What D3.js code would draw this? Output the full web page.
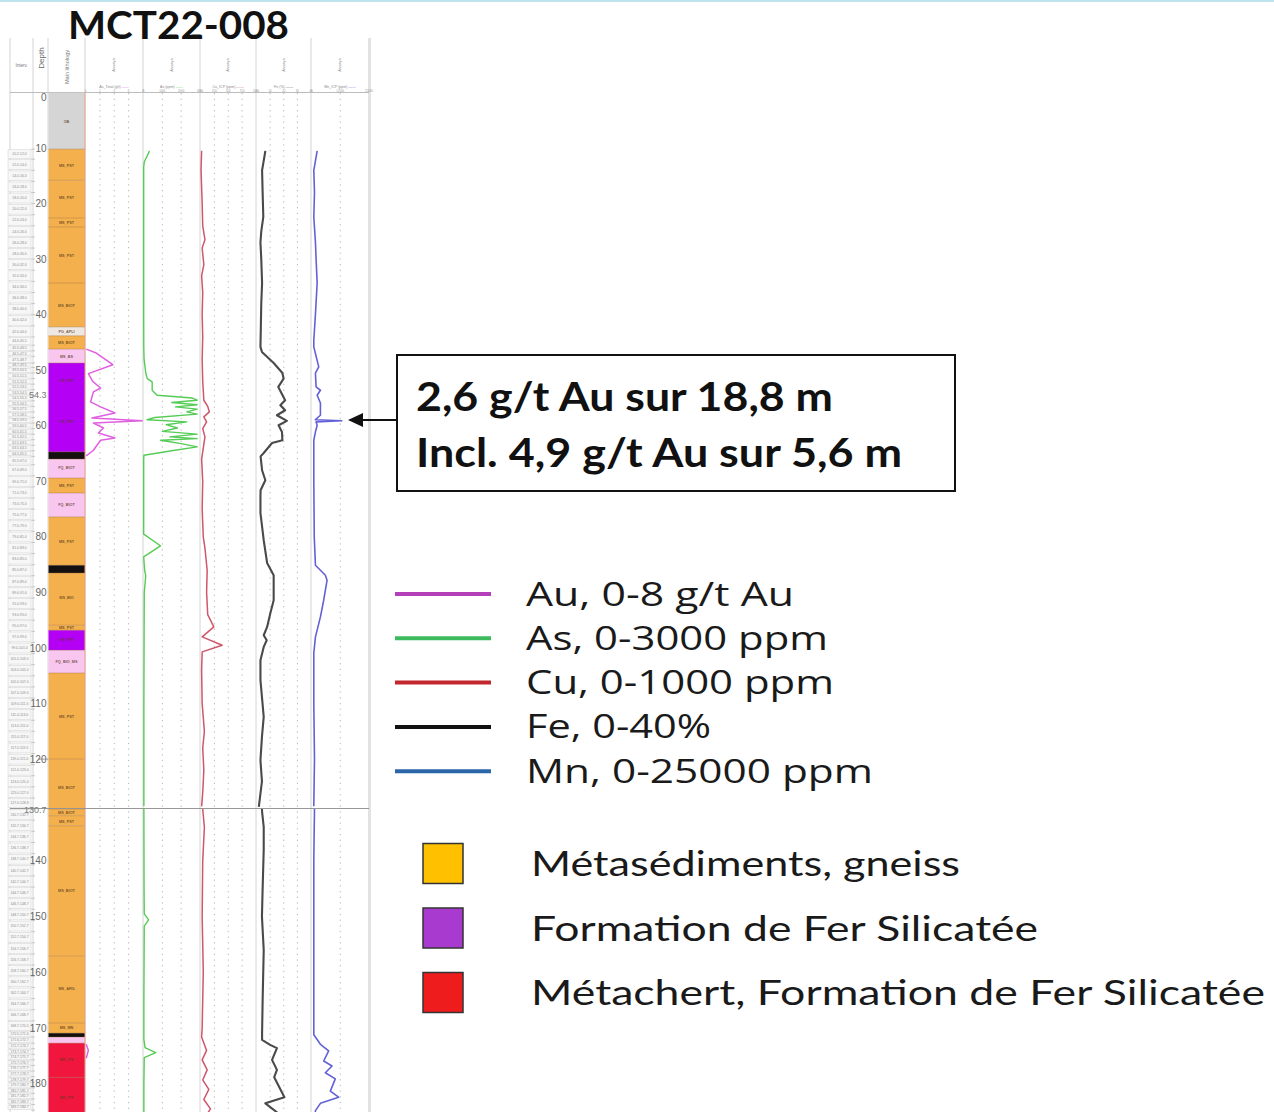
<!DOCTYPE html>
<html><head><meta charset="utf-8">
<script src="https://cdn.jsdelivr.net/npm/d3@7"></script>
<style>body{margin:0;background:#fff} svg{display:block}</style>
</head><body><svg id="c" width="1274" height="1112"></svg>
<script>
// ---------------- DATA ----------------
const holeId = "MCT22-008";
const calloutLines = ["2,6 g/t Au sur 18,8 m", "Incl. 4,9 g/t Au sur 5,6 m"];
const depthTicks = [0,10,20,30,40,50,60,70,80,90,100,110,120,140,150,160,170,180];
const specialDepthLabels = [[54.3,"54.3"],[130.7,"130.7"]];

// lithology units [from, to, type]
const lithoUnits = [
  [0,10.2,"OB"],[10.2,15.8,"MS"],[15.8,22.6,"MS"],[22.6,24.2,"MS"],[24.2,34.3,"MS"],
  [34.3,42.2,"MS"],[42.2,43.8,"AP"],[43.8,46.2,"MS"],[46.2,48.7,"PK"],[48.7,64.7,"FS"],
  [64.7,66.0,"BK"],[66.0,69.4,"PK"],[69.4,72.1,"MS"],[72.1,76.4,"PK"],[76.4,85.1,"MS"],
  [85.1,86.5,"BK"],[86.5,95.9,"MS"],[95.9,96.8,"MS"],[96.8,100.4,"FS"],[100.4,104.5,"PK"],
  [104.5,120,"MS"],[120,128.8,"MS"],
  [130.7,131.9,"MS"],[131.9,133.7,"MS"],[133.7,157.1,"MS"],[157.1,169.1,"MS"],[169.1,170.9,"MS"],
  [170.9,171.6,"BK"],[171.6,172.7,"PK"],[172.7,178.8,"MC"],[178.8,190,"MC"]
];
const lithoLabels = [
  [5.3,"OB"],[13.2,"MS_PST"],[19,"MS_PST"],[23.4,"MS_PST"],[29.4,"MS_PST"],[38.4,"MS_BIOT"],
  [43.0,"PG_APLI"],[45.0,"MS_BIOT"],[47.5,"MS_BS"],[51.8,"FS_PST"],[59.3,"FS_PST"],
  [67.6,"FQ_BIOT"],[70.8,"MS_PST"],[74.2,"FQ_BIOT"],[80.9,"MS_PST"],[91,"MS_BIO"],
  [96.3,"MS_PST"],[98.5,"FS_PST"],[102.5,"FQ_BIO_MS"],[112.4,"MS_PST"],[125.2,"MS_BIOT"],
  [131.3,"MS_BIOT"],[133,"MS_PST"],[145.4,"MS_BIOT"],[163,"MS_ARG"],[170,"MS_MN"],
  [175.7,"MC_FS"],[182.4,"MC_FS"]
];

// sample interval starts (two sections of the log)
const samplesUpper = [10.2,12,14,16,18,20,22,24,26,28,30,32,34,36,38,40,42,44,45.5,46.5,47.5,48.7,49.5,50.5,51.5,52.5,53.5,54.5,55.5,56.5,57.5,58.5,59.5,60.5,61.5,62.5,63.5,64.5,65.5,67,69,71,73,75,77,79,81,83,85,87,89,91,93,95,97,99,101,103,105,107,109,111,113,115,117,119,121,123,125,127,128.8];
const samplesLower = [130.7,132.7,134.7,136.7,138.7,140.7,142.7,144.7,146.7,148.7,150.7,152.7,154.7,156.7,158.7,160.7,162.7,164.7,166.7,168.7,170.5,171.6,172.7,173.7,174.7,175.7,176.7,177.7,178.7,179.7,180.7,181.7,182.7,183.7,184.7];

// assays [depth, value]; null = no data / page break
const auData = [[46.2,0.1],[46.9,1.5],[49.0,3.8],[50.6,0.4],[52.0,1.0],[53.2,2.1],[53.9,1.1],[55.7,0.7],[56.6,2.1],[57.7,4.1],[58.6,0.9],[59.1,7.9],[59.5,1.1],[60.4,2.5],[61.3,1.8],[62.2,4.1],[62.6,2.1],[64.4,1.1],[65.4,0.1],[66,null],[172.9,0.1],[174.0,0.4],[175.4,0.1]];
const asData = [[10.5,320],[12.5,40],[13.5,10],[20,10],[30,10],[40,10],[46,15],[48,30],[50.5,120],[51.5,200],[52.1,460],[53.6,460],[54.5,720],[55.0,2600],[55.4,2850],[55.8,1500],[56.2,2850],[56.6,1700],[57.0,2850],[57.5,2300],[57.9,2850],[58.5,600],[58.9,190],[59.3,2300],[59.8,1200],[60.4,1800],[61.0,1000],[61.5,2850],[62.0,1400],[62.3,2850],[62.6,900],[63.2,2000],[63.8,2850],[64.5,1500],[65.3,20],[66,10],[79.5,10],[81.6,900],[83.6,10],[86,60],[87,120],[90,40],[100,30],[110,20],[120,20],[128.5,20],[129.5,null],[130.7,20],[145,30],[149.5,40],[150.6,270],[151.7,40],[165,20],[172,20],[173.5,80],[174.4,650],[175.3,40],[180,20],[186,20]];
const cuData = [[10.5,20],[14,10],[20,30],[24,40],[26.5,80],[28,30],[31,60],[33,20],[36,40],[40,30],[44,40],[48,30],[52,40],[55.4,60],[56.5,130],[57.5,160],[58.4,60],[59.3,110],[60.5,40],[62,80],[64,50],[66,20],[70,40],[75,30],[80,50],[82,80],[86,120],[90,110],[94,130],[96.2,240],[98,30],[99.5,390],[100.7,30],[104,20],[110,30],[115,70],[118,40],[122,60],[126,40],[128.5,20],[129.5,null],[130.7,40],[134,70],[140,40],[150,30],[160,50],[170,30],[171.6,20],[174,110],[175.7,30],[177.5,120],[179.3,40],[181,150],[182.8,60],[184.5,180],[186,80]];
const feData = [[10.5,6.5],[12,5.5],[14,4.1],[18,4.5],[22.4,5.0],[25,3.5],[27,2.9],[30,3.5],[34.3,4.1],[38,3.5],[42,3.2],[45.8,2.9],[46.7,4.0],[48.7,12.6],[50.5,19],[51.5,19.9],[53.0,16],[55.4,21],[56.3,17.5],[57.2,21],[58.1,15],[59.1,22.3],[59.9,16.2],[61.1,18.7],[62.6,19],[63.1,11.4],[64.9,5.3],[65.5,3],[68,4.1],[69.8,6.5],[71.6,3],[72.8,2.9],[75.7,2.9],[80.6,5.3],[84.7,7.8],[86.9,12.6],[91.4,12.6],[93.7,10.2],[96.2,7.8],[97.7,5.3],[98.6,7.5],[99.8,5.3],[102.2,2.9],[105.8,2.9],[112.4,5.3],[116,4],[120.2,2.9],[124,4],[128.6,1.7],[129.5,null],[130.7,4],[131.2,4.1],[133.9,5.3],[138,5.3],[145,4.5],[150,4],[156,5.3],[165,4.5],[170.9,4.1],[172.1,4.1],[173,10],[173.6,15],[175.7,11.4],[177.5,15],[178.8,13],[182.4,20.5],[183.5,6.5],[185.1,15],[186,17]];
const mnData = [[10.5,2460],[14,1000],[18,1300],[22.4,1000],[27,1720],[30,2000],[34.3,2460],[40,1700],[44.6,1000],[45.8,1000],[49.4,3150],[50.5,1700],[53.0,2000],[53.6,3880],[54.5,2460],[55.9,3880],[58.1,3880],[58.9,1700],[59.1,13200],[59.3,2000],[59.9,2460],[61.1,1720],[62.6,1000],[70,1000],[80,1200],[85.1,1720],[86.9,6030],[87.8,6770],[91.4,5300],[94.4,3880],[98,1720],[100.9,1000],[110,1000],[120,1300],[128.5,1000],[129.5,null],[130.7,1300],[140,1000],[150,1000],[160,1000],[171.2,1000],[172.9,3880],[174.1,7460],[175.9,5300],[176.8,8920],[178,6030],[179.1,10340],[181.3,8190],[182.4,11770],[183.5,3880],[184.8,1720],[186,1500]];

const elements = ["Au","As","Cu","Fe","Mn"];
const elementMax = [8,3000,1000,40,25000];
const elementGridStep = [2,1000,250,10,12500];
const elementHeader = ["Au_Total (g/t)","As (ppm)","Cu_ICP (ppm)","Fe (%)","Mn_ICP (ppm)"];
const legendLabels = ["Au, 0-8 g/t Au","As, 0-3000 ppm","Cu, 0-1000 ppm","Fe, 0-40%","Mn, 0-25000 ppm"];
const lithoLegendLabels = ["Métasédiments, gneiss","Formation de Fer Silicatée","Métachert, Formation de Fer Silicatée"];

// ---------------- STYLE ----------------
const lithoColor = {OB:"#d5d5d5",MS:"#f4b04c",AP:"#efe7e2",PK:"#f8c6ef",FS:"#b400f4",BK:"#151010",MC:"#f0163e"};
const curveColor = ["#e060e0","#55cc55","#d0566a","#4a4a4a","#6262d6"];
const curveWidth = [1.5,1.4,1.5,2.1,1.6];
const legendColor = ["#b53fb8","#3dbb5c","#c1272d","#111111","#2a66a8"];
const lithoLegendColor = ["#ffc000","#a83ad0","#ee1c1c"];

const svg = d3.select("#c");
svg.append("rect").attr("width",1274).attr("height",1112).attr("fill","#fff");
svg.append("rect").attr("x",0).attr("y",0).attr("width",1274).attr("height",2).attr("fill","#bfe4ef");

const y = d3.scaleLinear().domain([0,128.8,130.7,190]).range([92.5,808,809,1139.6]);
const colEdges = [85,143,200,256,311,369];
const xScales = elements.map((e,i)=>d3.scaleLinear().domain([0,elementMax[i]]).range([colEdges[i]+0.5,colEdges[i+1]]));

const log = svg.append("g");
const clip = svg.append("defs").append("clipPath").attr("id","logclip");
clip.append("rect").attr("x",5).attr("y",92.5).attr("width",366).attr("height",1020);

// dotted grid in assay columns
elements.forEach((e,i)=>{
  const ticks = d3.range(elementGridStep[i], elementMax[i], elementGridStep[i]);
  log.selectAll(null).data(ticks).enter().append("line")
    .attr("x1",d=>xScales[i](d)).attr("x2",d=>xScales[i](d))
    .attr("y1",93).attr("y2",1112)
    .attr("stroke","#b0b0b0").attr("stroke-width",0.9).attr("stroke-dasharray","1.3,4.4");
});

// column frame
[10,33,48,85,143,200,256,311].forEach(x=>{
  log.append("line").attr("x1",x).attr("x2",x).attr("y1",38).attr("y2",1112)
    .attr("stroke","#d4d4d4").attr("stroke-width",1);
});
log.append("rect").attr("x",368).attr("y",38).attr("width",3).attr("height",1074).attr("fill","#e2e2e2");
log.append("line").attr("x1",10).attr("x2",369).attr("y1",92.5).attr("y2",92.5).attr("stroke","#bdbdbd").attr("stroke-width",1);

// sample interval column
function sampleCells(list){
  const cells = list.slice(0,-1).map((d,i)=>[d,list[i+1]]);
  const g = log.append("g");
  g.selectAll("rect").data(cells).enter().append("rect")
    .attr("x",8).attr("width",23)
    .attr("y",d=>y(d[0])+0.6).attr("height",d=>Math.max(0.5,y(d[1])-y(d[0])-1.2))
    .attr("fill","#f7f7f7").attr("stroke","#cfcfcf").attr("stroke-width",0.5);
  g.selectAll("text").data(cells).enter().append("text")
    .attr("x",19.5).attr("y",d=>(y(d[0])+y(d[1]))/2+1.2)
    .attr("text-anchor","middle").attr("font-family","Liberation Sans, Arial").attr("font-size",3.4)
    .attr("fill","#8a8a8a").text(d=>d[0].toFixed(1)+"-"+d[1].toFixed(1));
  g.selectAll("line").data(list).enter().append("line")
    .attr("x1",31).attr("x2",35).attr("y1",d=>y(d)).attr("y2",d=>y(d))
    .attr("stroke","#aaa").attr("stroke-width",0.6);
}
sampleCells(samplesUpper);
sampleCells(samplesLower);

// lithology column
log.selectAll(".lu").data(lithoUnits).enter().append("rect").attr("class","lu")
  .attr("x",48.5).attr("width",36.5)
  .attr("y",d=>y(d[0])).attr("height",d=>y(d[1])-y(d[0]))
  .attr("fill",d=>lithoColor[d[2]]).attr("clip-path","url(#logclip)");
log.selectAll(".lb").data(lithoUnits.slice(1)).enter().append("line").attr("class","lb")
  .attr("x1",48.5).attr("x2",85).attr("y1",d=>y(d[0])).attr("y2",d=>y(d[0]))
  .attr("stroke","#9a6a3a").attr("stroke-opacity",0.55).attr("stroke-width",0.7);
log.append("line").attr("x1",85).attr("x2",85).attr("y1",92.5).attr("y2",1112).attr("stroke","#e8a08a").attr("stroke-width",1);
log.selectAll(".ll").data(lithoLabels).enter().append("text").attr("class","ll")
  .attr("x",66.5).attr("y",d=>y(d[0])+1.3).attr("text-anchor","middle")
  .attr("font-family","Liberation Sans, Arial").attr("font-size",3.8).attr("font-weight","bold")
  .attr("fill","#5a3c1c").attr("fill-opacity",0.8).text(d=>d[1]);

// depth labels
log.selectAll(".dt").data(depthTicks).enter().append("text").attr("class","dt")
  .attr("x",46.5).attr("y",d=>y(d)+(d===0?8:3.5)).attr("text-anchor","end")
  .attr("font-family","Liberation Sans, Arial").attr("font-size",10).attr("fill","#666").text(d=>d);
log.selectAll(".ds").data(specialDepthLabels).enter().append("text").attr("class","ds")
  .attr("x",46.5).attr("y",d=>y(d[0])+3.5).attr("text-anchor","end")
  .attr("font-family","Liberation Sans, Arial").attr("font-size",9).attr("fill","#777").text(d=>d[1]);
// page break line
log.append("line").attr("x1",10).attr("x2",369).attr("y1",y(129.75)).attr("y2",y(129.75))
  .attr("stroke","#8c8c8c").attr("stroke-width",0.9);
log.append("line").attr("x1",38).attr("x2",48).attr("y1",y(120)).attr("y2",y(120))
  .attr("stroke","#777").attr("stroke-width",0.7);

// header texts
const hf = "Liberation Sans, Arial";
log.append("text").attr("x",21.5).attr("y",67).attr("text-anchor","middle").attr("font-family",hf)
  .attr("font-size",4.5).attr("fill","#777").text("Interv.");
log.append("text").attr("transform","translate(43.5,58) rotate(-90)").attr("text-anchor","middle")
  .attr("font-family",hf).attr("font-size",8).attr("fill","#666").text("Depth");
log.append("text").attr("transform","translate(69,67) rotate(-90)").attr("text-anchor","middle")
  .attr("font-family",hf).attr("font-size",5.6).attr("fill","#777").text("Main lithology");
elements.forEach((e,i)=>{
  const cx = (colEdges[i]+colEdges[i+1])/2;
  log.append("text").attr("transform",`translate(${cx+1},65) rotate(-90)`).attr("text-anchor","middle")
    .attr("font-family",hf).attr("font-size",4.2).attr("fill","#888").text("Assays");
  const t = log.append("text").attr("x",cx).attr("y",87.5).attr("text-anchor","middle")
    .attr("font-family",hf).attr("font-size",3.6).attr("fill","#888");
  t.append("tspan").text(elementHeader[i]+" ");
  t.append("tspan").attr("fill",curveColor[i]).text("——");
  const tv = d3.range(0, elementMax[i]+1e-9, elementGridStep[i]);
  log.selectAll(null).data(tv).enter().append("text")
    .attr("x",d=>xScales[i](d)).attr("y",91.5).attr("text-anchor","middle")
    .attr("font-family",hf).attr("font-size",2.8).attr("fill","#999").text(d=>d);
});

// curves
const allData = [auData,asData,cuData,feData,mnData];
allData.forEach((data,i)=>{
  const line = d3.line().defined(d=>d[1]!==null).x(d=>xScales[i](d[1])).y(d=>y(d[0]));
  log.append("path").datum(data).attr("d",line).attr("fill","none")
    .attr("stroke",curveColor[i]).attr("stroke-width",curveWidth[i])
    .attr("stroke-linejoin","round").attr("clip-path","url(#logclip)");
});

// title
svg.append("text").attr("x",68).attr("y",39).attr("font-family","Lato, Open Sans, sans-serif")
  .attr("font-weight","bold").attr("font-size",39).attr("fill","#111")
  .attr("textLength",221).attr("lengthAdjust","spacingAndGlyphs").text(holeId);

// callout
svg.append("rect").attr("x",397).attr("y",355).attr("width",558).attr("height",136)
  .attr("fill","#fff").attr("stroke","#111").attr("stroke-width",2);
const calloutW = [417,486];
svg.selectAll(".co").data(calloutLines).enter().append("text").attr("class","co")
  .attr("x",416).attr("y",(d,i)=>411+i*55.5).attr("font-family","Lato, Open Sans, sans-serif")
  .attr("font-weight","bold").attr("font-size",40).attr("fill","#111")
  .attr("textLength",(d,i)=>calloutW[i]).attr("lengthAdjust","spacingAndGlyphs").text(d=>d);
svg.append("line").attr("x1",396).attr("x2",360).attr("y1",420).attr("y2",420).attr("stroke","#111").attr("stroke-width",2);
svg.append("path").attr("d","M348,420 L363,413 L363,427 Z").attr("fill","#111");

// element legend
const legW = [268,302,308,185,347];
const lg = svg.append("g");
lg.selectAll("line").data(legendLabels).enter().append("line")
  .attr("x1",395).attr("x2",491).attr("y1",(d,i)=>594+i*44.3).attr("y2",(d,i)=>594+i*44.3)
  .attr("stroke",(d,i)=>legendColor[i]).attr("stroke-width",4);
lg.selectAll("text").data(legendLabels).enter().append("text")
  .attr("x",526).attr("y",(d,i)=>605.5+i*44.3).attr("font-family","Open Sans, Lato, sans-serif")
  .attr("font-size",33).attr("fill","#1a1a1a")
  .attr("textLength",(d,i)=>legW[i]).attr("lengthAdjust","spacingAndGlyphs").text(d=>d);

// lithology legend
const lithW = [429,507,734];
const ll = svg.append("g");
ll.selectAll("rect").data(lithoLegendLabels).enter().append("rect")
  .attr("x",423).attr("y",(d,i)=>843.5+i*64.5).attr("width",40).attr("height",40)
  .attr("fill",(d,i)=>lithoLegendColor[i]).attr("stroke","#333").attr("stroke-width",1.5);
ll.selectAll("text").data(lithoLegendLabels).enter().append("text")
  .attr("x",531).attr("y",(d,i)=>876+i*64.5).attr("font-family","Lato, Open Sans, sans-serif")
  .attr("font-size",35).attr("fill","#1a1a1a")
  .attr("textLength",(d,i)=>lithW[i]).attr("lengthAdjust","spacingAndGlyphs").text(d=>d);
</script></body></html>
